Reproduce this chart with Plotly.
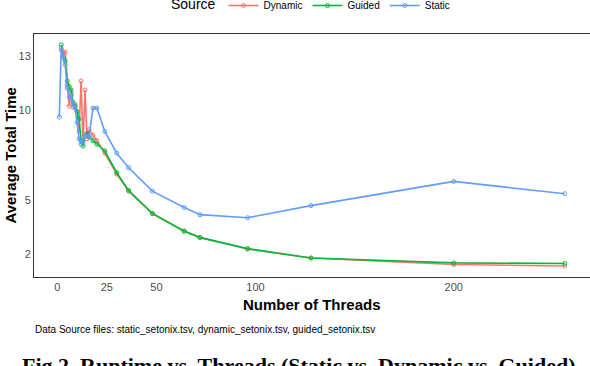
import plotly.graph_objects as go

# thread counts and average total time per schedule
threads_static = [1, 2, 3, 4, 5, 6, 7, 8, 9, 10, 11, 12, 13, 14, 16, 18, 20, 24, 30, 36, 48, 64, 72, 96, 128, 200, 256]
time_static = [9.6, 13.4, 13.0, 12.5, 11.2, 10.7, 10.8, 10.3, 10.1, 9.3, 8.4, 8.1, 8.3, 8.6, 8.5, 10.1, 10.1, 8.8, 7.6, 6.8, 5.5, 4.6, 4.2, 4.03, 4.7, 6.04, 5.36]

threads_dyn = [2, 3, 4, 5, 6, 7, 8, 9, 10, 11, 12, 13, 14, 15, 16, 18, 20, 24, 30, 36, 48, 64, 72, 96, 128, 200, 256]
time_dyn = [13.3, 13.2, 13.2, 11.4, 10.2, 10.9, 10.15, 10.3, 9.9, 8.8, 11.6, 8.2, 11.1, 8.4, 8.9, 8.6, 8.3, 7.6, 6.45, 5.5, 4.25, 3.3, 2.95, 2.3, 1.8, 1.44, 1.36]

threads_guided = [2, 3, 4, 5, 6, 7, 8, 9, 10, 11, 12, 13, 14, 15, 16, 18, 20, 24, 30, 36, 48, 64, 72, 96, 128, 200, 256]
time_guided = [13.6, 12.9, 12.7, 11.6, 11.3, 11.1, 10.4, 10.2, 9.9, 9.5, 8.3, 8.0, 8.6, 8.7, 8.5, 8.3, 8.1, 7.73, 6.52, 5.54, 4.27, 3.28, 2.93, 2.32, 1.8, 1.53, 1.5]

x_ticks = [0, 25, 50, 100, 200]
y_ticks = [2, 5, 10, 13]

COLORS = {'Dynamic': '#F8766D', 'Guided': '#00BA38', 'Static': '#619CFF'}

fig = go.Figure()
for name, xs, ys in [('Dynamic', threads_dyn, time_dyn),
                     ('Guided', threads_guided, time_guided),
                     ('Static', threads_static, time_static)]:
    fig.add_trace(go.Scatter(
        x=xs, y=ys, name=name, mode='lines+markers',
        line=dict(color=COLORS[name], width=1.6),
        marker=dict(symbol='circle-open', size=4, color=COLORS[name], line=dict(width=1)),
    ))

axis_font = dict(family='Liberation Sans, Arial', size=11, color='#4D4D4D')
fig.update_layout(
    width=590, height=366,
    margin=dict(l=34, r=0, t=34, b=89, autoexpand=False),
    plot_bgcolor='white', paper_bgcolor='white',
    font=dict(family='Liberation Sans, Arial'),
    legend=dict(orientation='h', x=0.5, xanchor='center', yref='container', y=0.985, yanchor='middle',
                title=dict(text='Source', font=dict(size=14, color='black')),
                font=dict(size=10, color='black'), itemwidth=30, tracegroupgap=0),
    xaxis=dict(range=[-11.75, 268.75], tickvals=x_ticks, showgrid=False, zeroline=False,
               showline=True, mirror=True, linecolor='#333333', linewidth=1,
               ticks='', tickfont=axis_font, automargin=False),
    yaxis=dict(range=[0.75, 14.2], tickvals=y_ticks, showgrid=False, zeroline=False,
               showline=True, mirror=True, linecolor='#333333', linewidth=1,
               ticks='', tickfont=axis_font, automargin=False),
)

fig.add_annotation(text='<b>Number of Threads</b>', xref='paper', yref='paper', x=0.5, y=-0.115,
                   yanchor='middle', showarrow=False, font=dict(size=15, color='black'))
fig.add_annotation(text='<b>Average Total Time</b>', xref='paper', yref='paper', x=0, y=0.5,
                   xanchor='center', textangle=-90, showarrow=False, xshift=-24,
                   font=dict(size=15, color='black'))
fig.add_annotation(text='Data Source files: static_setonix.tsv, dynamic_setonix.tsv, guided_setonix.tsv',
                   xref='paper', yref='paper', x=0, y=-0.215, xanchor='left', yanchor='middle',
                   xshift=-1, showarrow=False, font=dict(size=10, color='black'))
fig.add_annotation(text='<b>Fig 2. Runtime vs. Threads (Static vs. Dynamic vs. Guided)</b>',
                   xref='paper', yref='paper', x=0.5, y=-0.366, yanchor='middle', xshift=-13,
                   showarrow=False, font=dict(family='Liberation Serif, Times New Roman', size=22, color='black'))

# drop the default page margin so the figure sits at the window's corner
fig.write_html('out.html', config={'displayModeBar': False},
               post_script="document.body.style.margin='0';")
